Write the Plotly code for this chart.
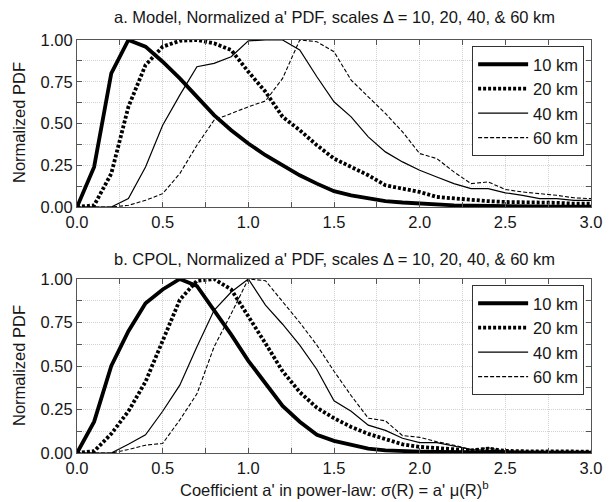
import plotly.graph_objects as go

# ---------------- data ----------------
a_bins = [round(0.1 * i, 1) for i in range(31)]

model_10km = [0.0, 0.24, 0.80, 1.0, 0.96, 0.87, 0.77, 0.66, 0.55, 0.46, 0.38, 0.31, 0.25, 0.19, 0.14,
              0.095, 0.07, 0.05, 0.035, 0.027, 0.02, 0.015, 0.01, 0.008, 0.006, 0.005, 0.004, 0.003,
              0.002, 0.002, 0.002]
model_20km = [0.0, 0.01, 0.20, 0.60, 0.85, 0.96, 0.995, 1.0, 0.98, 0.94, 0.81, 0.69, 0.54, 0.46, 0.37,
              0.29, 0.24, 0.19, 0.13, 0.11, 0.09, 0.06, 0.05, 0.04, 0.035, 0.03, 0.03, 0.025, 0.025,
              0.02, 0.02]
model_40km = [0.0, 0.0, 0.0, 0.05, 0.24, 0.49, 0.67, 0.84, 0.86, 0.90, 0.995, 1.0, 1.0, 0.94, 0.78,
              0.63, 0.54, 0.42, 0.33, 0.27, 0.22, 0.18, 0.14, 0.11, 0.11, 0.085, 0.07, 0.05, 0.05,
              0.04, 0.04]
model_60km = [0.0, 0.0, 0.0, 0.01, 0.04, 0.08, 0.20, 0.37, 0.52, 0.56, 0.60, 0.635, 0.77, 1.0, 0.99,
              0.93, 0.76, 0.66, 0.56, 0.45, 0.32, 0.29, 0.21, 0.14, 0.15, 0.105, 0.09, 0.08, 0.07,
              0.055, 0.05]

cpol_10km = [0.0, 0.18, 0.50, 0.70, 0.86, 0.94, 1.0, 0.96, 0.82, 0.68, 0.53, 0.40, 0.27, 0.18, 0.105,
             0.07, 0.045, 0.025, 0.015, 0.01, 0.008, 0.006, 0.005, 0.005, 0.004, 0.004, 0.003, 0.003,
             0.002, 0.002, 0.002]
cpol_20km = [0.0, 0.01, 0.11, 0.24, 0.41, 0.64, 0.88, 0.99, 1.0, 0.94, 0.79, 0.63, 0.47, 0.35, 0.26,
             0.20, 0.15, 0.11, 0.08, 0.05, 0.035, 0.03, 0.02, 0.015, 0.025, 0.012, 0.01, 0.01, 0.009,
             0.008, 0.008]
cpol_40km = [0.0, 0.0, 0.0, 0.05, 0.105, 0.24, 0.39, 0.61, 0.82, 0.925, 1.0, 0.85, 0.74, 0.62, 0.48,
             0.30, 0.24, 0.16, 0.13, 0.085, 0.06, 0.06, 0.04, 0.02, 0.015, 0.01, 0.008, 0.006, 0.005,
             0.005, 0.005]
cpol_60km = [0.0, 0.0, 0.0, 0.02, 0.045, 0.055, 0.19, 0.34, 0.61, 0.80, 1.0, 0.99, 0.87, 0.75, 0.62,
             0.47, 0.33, 0.20, 0.185, 0.10, 0.09, 0.065, 0.045, 0.02, 0.03, 0.01, 0.008, 0.008, 0.007,
             0.006, 0.006]

series_names = ["10 km", "20 km", "40 km", "60 km"]
x_ticks = [0.0, 0.5, 1.0, 1.5, 2.0, 2.5, 3.0]
y_ticks = [0.0, 0.25, 0.5, 0.75, 1.0]

title_a = "a. Model, Normalized a' PDF, scales \u0394 = 10, 20, 40, & 60 km"
title_b = "b. CPOL, Normalized a' PDF, scales \u0394 = 10, 20, 40, & 60 km"
x_title = "Coefficient a' in power-law: \u03c3(R) = a' \u03bc(R)<sup>b</sup>"
y_title = "Normalized PDF"

# ---------------- styles ----------------
styles = [
    dict(color="black", width=3.8, dash="solid"),
    dict(color="black", width=3.8, dash="3px,2px"),
    dict(color="black", width=1.2, dash="solid"),
    dict(color="black", width=1.1, dash="4px,2px"),
]

FONT = "Liberation Sans, Arial, sans-serif"
FS = 16.5
TXT = "#161616"

fig = go.Figure()

for name, ys, st in zip(series_names, [model_10km, model_20km, model_40km, model_60km], styles):
    fig.add_trace(go.Scatter(x=a_bins, y=ys, mode="lines", name=name, line=st,
                             xaxis="x", yaxis="y", legend="legend"))
for name, ys, st in zip(series_names, [cpol_10km, cpol_20km, cpol_40km, cpol_60km], styles):
    fig.add_trace(go.Scatter(x=a_bins, y=ys, mode="lines", name=name, line=st,
                             xaxis="x2", yaxis="y2", legend="legend2"))

W, H = 614, 502
ml, mr, mt, mb = 77, 14, 40, 49
BOT = H - mb          # pixel y of bottom axis of lower panel
PW = W - ml - mr
ph = H - mt - mb


def py(pix):
    return (BOT - pix) / ph


top_lo = py(207)
bot_hi = py(279)

GRIDC = "#d2d2d2"
axis_common = dict(
    showline=True, linecolor="#555", linewidth=1, mirror="ticks",
    ticks="inside", ticklen=5, tickcolor="#555",
    tickfont=dict(family=FONT, size=FS, color=TXT),
    zeroline=False, showgrid=True, gridcolor=GRIDC, griddash="1px,1px", gridwidth=1,
)

xaxis_cfg = dict(range=[0, 3], tickvals=x_ticks, tickformat=".1f",
                 minor=dict(dtick=0.25, tick0=0, ticks="inside", ticklen=5, tickcolor="#555",
                            showgrid=True, gridcolor=GRIDC, griddash="1px,1px"),
                 **axis_common)
yaxis_cfg = dict(range=[0, 1], tickvals=y_ticks, tickformat=".2f",
                 minor=dict(dtick=0.125, tick0=0, ticks="inside", ticklen=5, tickcolor="#555",
                            showgrid=True, gridcolor=GRIDC, griddash="1px,1px"),
                 **axis_common)

legend_common = dict(
    bgcolor="white", bordercolor="#333", borderwidth=1,
    font=dict(family=FONT, size=16.5, color=TXT),
    xanchor="right", yanchor="top", tracegroupgap=0,
    itemwidth=50,
)

fig.update_layout(
    width=W, height=H,
    margin=dict(l=ml, r=mr, t=mt, b=mb),
    paper_bgcolor="white", plot_bgcolor="white",
    font=dict(family=FONT, size=FS, color=TXT),
    xaxis=dict(domain=[0, 1], anchor="y", **xaxis_cfg),
    yaxis=dict(domain=[top_lo, 1], anchor="x", **yaxis_cfg),
    xaxis2=dict(domain=[0, 1], anchor="y2", **xaxis_cfg),
    yaxis2=dict(domain=[0, bot_hi], anchor="x2", **yaxis_cfg),
    legend=dict(x=(593 - ml) / PW, y=py(46), **legend_common),
    legend2=dict(x=(593 - ml) / PW, y=py(285), **legend_common),
    showlegend=True,
)

annos = [
    dict(text=title_a, x=0.5, y=py(17)),
    dict(text=title_b, x=0.5, y=py(259)),
    dict(text=x_title, x=0.5, y=py(489)),
]
for a in annos:
    fig.add_annotation(xref="paper", yref="paper", xanchor="center", yanchor="middle",
                       showarrow=False, font=dict(family=FONT, size=FS, color=TXT), **a)
for yc in [py(123), py(366)]:
    fig.add_annotation(text=y_title, xref="paper", yref="paper", x=(18 - ml) / PW, y=yc,
                       xanchor="center", yanchor="middle", textangle=-90, showarrow=False,
                       font=dict(family=FONT, size=FS, color=TXT))

fig.write_html("out.html")
